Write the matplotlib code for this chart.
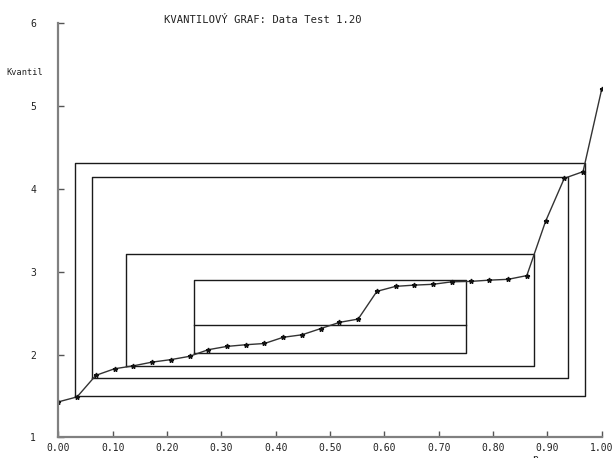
import matplotlib
matplotlib.use('Agg')
import matplotlib.pyplot as plt
import numpy as np

# sorted data values (quantiles), plotted at p = i/(n-1)
kvantil = [1.43, 1.49, 1.75, 1.83, 1.865, 1.91, 1.94, 1.98, 2.06, 2.10,
           2.12, 2.135, 2.21, 2.24, 2.315, 2.39, 2.43, 2.765, 2.825, 2.84,
           2.85, 2.88, 2.885, 2.90, 2.91, 2.955, 3.61, 4.13, 4.21, 5.21]
p = np.linspace(0, 1, len(kvantil))

# letter-value boxes: (p_low, p_high, q_low, q_high)
box_plo = [1/32, 1/16, 1/8, 1/4]
box_phi = [31/32, 15/16, 7/8, 3/4]
box_qlo = [1.50, 1.72, 1.865, 2.02]
box_qhi = [4.31, 4.15, 3.21, 2.90]
median = 2.36

xticks = np.round(np.arange(0, 1.01, 0.1), 2)
yticks = [1, 2, 3, 4, 5, 6]

FONT = 'DejaVu Sans Mono'
TXT = '#222222'

fig = plt.figure(figsize=(6.12, 4.58), dpi=100)
ax = fig.add_axes([0.0953, 0.0448, 0.888, 0.904])

for x0, x1, y0, y1 in zip(box_plo, box_phi, box_qlo, box_qhi):
    ax.plot([x0, x1, x1, x0, x0], [y0, y0, y1, y1, y0], color='#1a1a1a', lw=1.0)
ax.plot([box_plo[-1], box_phi[-1]], [median, median], color='#1a1a1a', lw=1.0)

ax.plot(p, kvantil, '-', color='#333333', lw=1.0, marker='*', ms=3.5,
        mfc='#111111', mec='#111111')

ax.set_xlim(0, 1)
ax.set_ylim(1, 6)
for s in ['top', 'right']:
    ax.spines[s].set_visible(False)
for s in ['left', 'bottom']:
    ax.spines[s].set_color('#808080')
    ax.spines[s].set_linewidth(1.6)

ax.set_xticks(xticks)
ax.set_xticklabels([f'{t:.2f}' for t in xticks], fontsize=7, family=FONT, color=TXT)
ax.set_yticks(yticks)
ax.set_yticklabels([str(t) for t in yticks], fontsize=7, family=FONT, color=TXT)
ax.tick_params(axis='both', direction='in', length=4, width=1, color='#555555')
ax.tick_params(axis='x', pad=4)
ax.tick_params(axis='y', pad=16)

fig.text(0.429, 0.956, 'KVANTILOVÝ GRAF: Data Test 1.20', ha='center', va='center',
         fontsize=7.6, family=FONT, color=TXT)
fig.text(0.041, 0.841, 'Kvantil', ha='center', va='center', fontsize=6.2,
         family=FONT, color=TXT)
fig.text(0.874, -0.003, 'p', ha='center', va='center', fontsize=7,
         family=FONT, color=TXT)

fig.savefig('out.png', dpi=100)
